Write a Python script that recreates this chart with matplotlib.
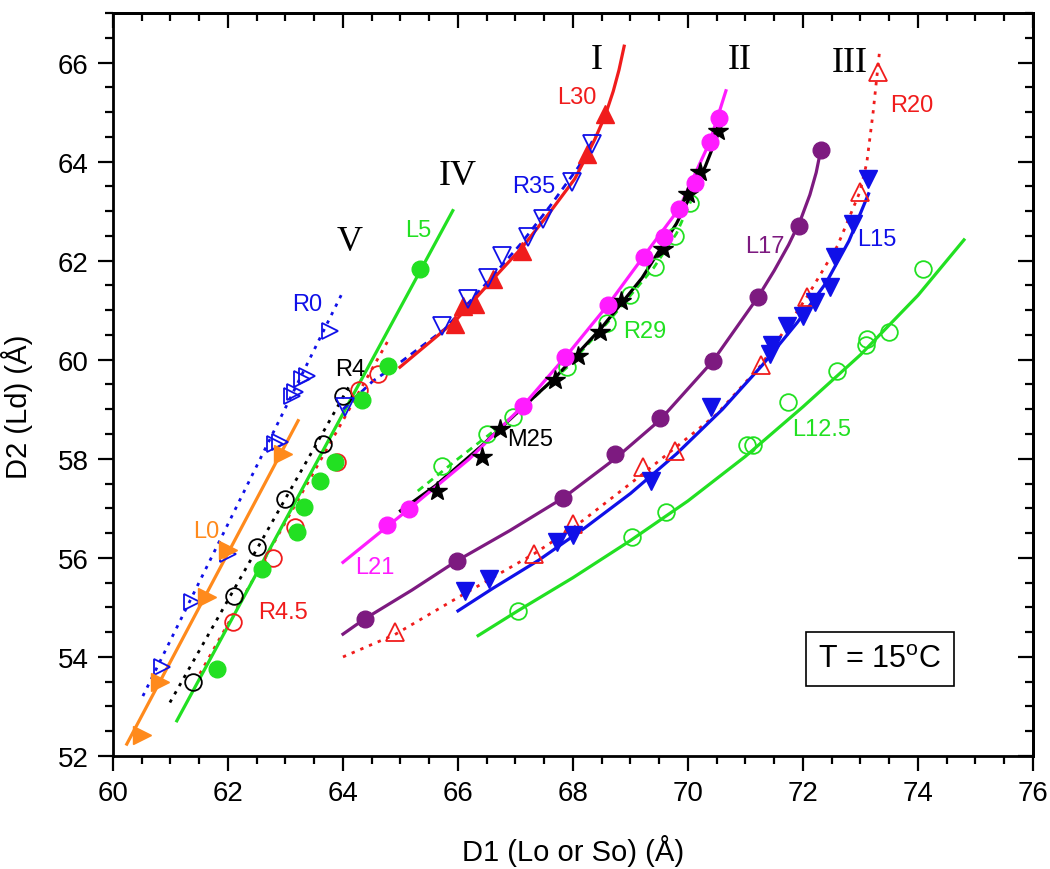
import numpy as np
import matplotlib
matplotlib.use("Agg")
import matplotlib.pyplot as plt
from matplotlib.ticker import MultipleLocator

plt.rcParams['font.family'] = ['Liberation Sans', 'DejaVu Sans']
plt.rcParams['mathtext.fontset'] = 'custom'
plt.rcParams['mathtext.rm'] = 'Liberation Sans'

# ---- data (D1, D2 in Angstrom) ----
# L0 : orange, filled right triangles
L0_x = [60.50, 60.82, 61.63, 62.00, 62.96]
L0_y = [52.42, 53.49, 55.21, 56.16, 58.10]
L0_fit_x = [60.24, 63.22]
L0_fit_y = [52.24, 58.77]

# R0 : blue open right triangles, dotted
R0_x = [60.85, 61.37, 62.00, 62.82, 62.90, 63.11, 63.17, 63.29, 63.37, 63.77]
R0_y = [53.79, 55.10, 56.08, 58.30, 58.34, 59.27, 59.35, 59.61, 59.67, 60.59]
R0_fit_x = [60.52, 63.98]
R0_fit_y = [53.21, 61.33]

# R4 : black open circles, dotted
R4_x = [61.39, 62.10, 62.50, 62.99, 63.66, 64.00]
R4_y = [53.49, 55.23, 56.22, 57.19, 58.30, 59.27]
R4_fit_x = [60.99, 64.10]
R4_fit_y = [53.08, 59.45]

# R4.5 : red open circles, dotted
R45_x = [62.09, 62.78, 63.17, 63.90, 64.28, 64.61]
R45_y = [54.71, 56.00, 56.62, 57.94, 59.39, 59.71]
R45_fit_x = [61.51, 64.82]
R45_fit_y = [53.66, 60.46]

# L5 : green filled circles
L5_x = [61.81, 62.59, 63.20, 63.32, 63.60, 63.86, 64.33, 64.78, 65.34]
L5_y = [53.76, 55.78, 56.52, 57.03, 57.55, 57.94, 59.19, 59.87, 61.83]
L5_fit_x = [61.11, 65.91]
L5_fit_y = [52.71, 63.01]

# L30 : red filled up triangles (I)
L30_x = [65.95, 66.09, 66.30, 66.61, 67.11, 68.24, 68.56]
L30_y = [60.72, 61.09, 61.13, 61.63, 62.20, 64.15, 64.96]
L30_fit_x = [64.99, 65.95, 66.61, 67.11, 67.60, 68.03, 68.20, 68.38, 68.56, 68.70, 68.80, 68.89]
L30_fit_y = [59.85, 60.78, 61.63, 62.26, 62.98, 63.65, 64.03, 64.45, 64.93, 65.42, 65.85, 66.33]

# R35 : blue open down triangles, dashed
R35_x = [64.03, 65.72, 66.18, 66.53, 66.76, 67.22, 67.48, 67.98, 68.33]
R35_y = [59.05, 60.69, 61.23, 61.66, 62.10, 62.47, 62.84, 63.58, 64.36]
R35_fit_x = [64.00, 64.52, 65.00, 65.77, 66.50, 67.10, 67.60, 68.10, 68.40]
R35_fit_y = [59.00, 59.57, 59.95, 60.62, 61.55, 62.35, 63.10, 63.90, 64.55]

# L21 : magenta filled circles (II)
L21_x = [64.77, 65.15, 67.13, 67.86, 68.61, 69.23, 69.58, 69.84, 70.12, 70.38, 70.54]
L21_y = [56.66, 56.99, 59.07, 60.06, 61.11, 62.07, 62.48, 63.04, 63.57, 64.40, 64.88]
L21_fit_x = [64.00, 65.15, 66.20, 67.13, 67.90, 68.61, 69.30, 69.84, 70.38, 70.66]
L21_fit_y = [55.91, 56.99, 58.00, 59.07, 60.10, 61.11, 62.20, 63.04, 64.40, 65.43]

# M25 : black stars
M25_x = [65.63, 66.42, 66.73, 67.69, 68.09, 68.47, 68.83, 69.57, 70.00, 70.21, 70.52]
M25_y = [57.35, 58.04, 58.60, 59.59, 60.08, 60.56, 61.19, 62.24, 63.35, 63.79, 64.62]
M25_fit_x = [65.00, 65.60, 66.40, 67.00, 67.70, 68.50, 69.20, 69.80, 70.30, 70.64]
M25_fit_y = [56.95, 57.45, 58.25, 58.90, 59.65, 60.65, 61.65, 62.75, 63.90, 64.90]

# R29 : green open circles, dotted
R29_x = [65.72, 66.50, 66.96, 67.90, 68.59, 68.99, 69.43, 69.77, 70.03]
R29_y = [57.86, 58.50, 58.84, 59.85, 60.74, 61.31, 61.87, 62.50, 63.17]
R29_fit_x = [65.30, 66.00, 67.00, 67.90, 68.60, 69.40, 69.80, 70.05]
R29_fit_y = [57.35, 58.00, 58.90, 59.85, 60.75, 61.85, 62.55, 63.20]

# L17 : purple filled circles
L17_x = [64.38, 65.98, 67.83, 68.73, 69.51, 70.43, 71.22, 71.93, 72.31]
L17_y = [54.77, 55.94, 57.21, 58.10, 58.82, 59.97, 61.27, 62.70, 64.24]
L17_fit_x = [64.00, 64.38, 65.20, 65.98, 66.90, 67.83, 68.73, 69.51, 70.43, 71.22,
             71.50, 71.75, 71.95, 72.12, 72.23, 72.31]
L17_fit_y = [54.46, 54.77, 55.35, 55.94, 56.55, 57.21, 58.00, 58.78, 59.97, 61.27,
             61.80, 62.32, 62.80, 63.33, 63.78, 64.24]

# L15 : blue filled down triangles (III)
L15_x = [66.12, 66.54, 67.72, 68.00, 69.36, 70.40, 71.42, 71.46, 71.72, 72.00,
         72.21, 72.47, 72.56, 72.87, 73.13]
L15_y = [55.33, 55.57, 56.32, 56.46, 57.55, 59.05, 60.12, 60.30, 60.68, 60.88,
         61.17, 61.47, 62.07, 62.74, 63.65]
L15_fit_x = [66.00, 66.60, 67.40, 68.20, 69.00, 69.80, 70.60, 71.30, 71.90, 72.40, 72.80, 73.14]
L15_fit_y = [54.93, 55.38, 55.95, 56.60, 57.30, 58.10, 59.00, 59.90, 60.75, 61.55, 62.40, 63.35]

# R20 : red open up triangles, dotted
R20_x = [64.90, 67.32, 68.00, 69.22, 69.77, 71.27, 72.07, 72.99, 73.30]
R20_y = [54.50, 56.08, 56.68, 57.83, 58.16, 59.89, 61.27, 63.39, 65.81]
R20_fit_x = [64.00, 64.90, 66.00, 67.32, 68.00, 69.22, 70.50, 71.27, 72.07, 72.60, 72.99, 73.11, 73.22, 73.33]
R20_fit_y = [54.00, 54.45, 55.20, 56.08, 56.60, 57.70, 58.90, 59.89, 61.27, 62.30, 63.39, 63.98, 65.00, 66.21]

# L12.5 : green open circles
L125_x = [67.04, 69.03, 69.62, 71.03, 71.13, 71.74, 72.59, 73.10, 73.11, 73.50, 74.09]
L125_y = [54.93, 56.42, 56.93, 58.28, 58.28, 59.15, 59.77, 60.30, 60.42, 60.56, 61.83]
L125_fit_x = [66.35, 67.04, 68.00, 69.00, 70.00, 71.00, 72.00, 73.00, 74.00, 74.80]
L125_fit_y = [54.43, 54.93, 55.60, 56.35, 57.15, 58.05, 59.05, 60.10, 61.30, 62.42]

RED = '#f01c1c'
BLUE = '#1010e8'
GREEN = '#22e022'
ORANGE = '#ff8a1c'
MAGENTA = '#ff1cff'
PURPLE = '#7d1a80'

fig = plt.figure(figsize=(10.5, 8.7), dpi=100)
ax = fig.add_axes([0.1076, 0.1299, 0.8762, 0.854])

dot = (0, (1.2, 2.2))
dash = (0, (2.5, 2.0))
LW = 2.3
DLW = 2.0

# fit lines
ax.plot(L0_fit_x, L0_fit_y, color=ORANGE, lw=LW, zorder=2)
ax.plot(R0_fit_x, R0_fit_y, color=BLUE, lw=DLW, ls=dot, zorder=2)
ax.plot(R4_fit_x, R4_fit_y, color='black', lw=DLW, ls=dot, zorder=2)
ax.plot(R45_fit_x, R45_fit_y, color=RED, lw=DLW, ls=dot, zorder=2)
ax.plot(L5_fit_x, L5_fit_y, color=GREEN, lw=LW, zorder=2)
ax.plot(R35_fit_x, R35_fit_y, color=BLUE, lw=DLW, ls=dash, zorder=2)
ax.plot(L30_fit_x, L30_fit_y, color=RED, lw=LW, zorder=2)
ax.plot(R29_fit_x, R29_fit_y, color=GREEN, lw=DLW, ls=dash, zorder=2)
ax.plot(M25_fit_x, M25_fit_y, color='black', lw=LW, zorder=2)
ax.plot(L21_fit_x, L21_fit_y, color=MAGENTA, lw=LW, zorder=2)
ax.plot(L17_fit_x, L17_fit_y, color=PURPLE, lw=LW, zorder=2)
ax.plot(R20_fit_x, R20_fit_y, color=RED, lw=DLW, ls=dot, zorder=2)
ax.plot(L15_fit_x, L15_fit_y, color=BLUE, lw=LW, zorder=2)
ax.plot(L125_fit_x, L125_fit_y, color=GREEN, lw=LW, zorder=2)

# markers
def pts(x, y, m, c, filled=True, ms=12, z=3):
    if filled:
        ax.plot(x, y, ls='none', marker=m, ms=ms, mfc=c, mec=c, zorder=z)
    else:
        ax.plot(x, y, ls='none', marker=m, ms=ms, mfc='none', mec=c, mew=1.3, zorder=z)

pts(R0_x, R0_y, '>', BLUE, False, 12)
pts(L0_x, L0_y, '>', ORANGE, True, 13)
pts(R4_x, R4_y, 'o', 'black', False, 12)
pts(R45_x, R45_y, 'o', RED, False, 12)
pts(L5_x, L5_y, 'o', GREEN, True, 12)
pts(L30_x, L30_y, '^', RED, True, 13)
pts(R35_x, R35_y, 'v', BLUE, False, 13, 4)
pts(R29_x, R29_y, 'o', GREEN, False, 12)
pts(M25_x, M25_y, '*', 'black', True, 15)
pts(L21_x, L21_y, 'o', MAGENTA, True, 12)
pts(L17_x, L17_y, 'o', PURPLE, True, 12)
pts(R20_x, R20_y, '^', RED, False, 13)
pts(L15_x, L15_y, 'v', BLUE, True, 13)
pts(L125_x, L125_y, 'o', GREEN, False, 12)

# labels of series
fs = 17
lab = [("L30", 68.06, 65.30, RED), ("R35", 67.31, 63.51, BLUE), ("L5", 65.31, 62.61, GREEN),
       ("R0", 63.37, 61.13, BLUE), ("R4", 64.12, 59.81, 'black'), ("L0", 61.63, 56.55, ORANGE),
       ("R4.5", 62.96, 54.90, RED), ("L21", 64.56, 55.81, MAGENTA), ("M25", 67.25, 58.40, 'black'),
       ("R29", 69.25, 60.58, GREEN), ("L17", 71.34, 62.30, PURPLE), ("L15", 73.28, 62.44, BLUE),
       ("R20", 73.89, 65.14, RED), ("L12.5", 72.32, 58.60, GREEN)]
for t, x, y, c in lab:
    ax.text(x, y, t, color=c, fontsize=fs, ha='center', va='center')

roman = [("I", 68.41, 66.07), ("II", 70.90, 66.07), ("III", 72.82, 66.00),
         ("IV", 66.00, 63.72), ("V", 64.12, 62.38)]
for t, x, y in roman:
    ax.text(x, y, t, color='black', fontsize=26, ha='center', va='center',
            family=['Liberation Serif', 'DejaVu Serif'])

ax.text(73.34, 53.96, r"T = 15$^{\mathrm{o}}$C", fontsize=22, ha='center', va='center',
        bbox=dict(boxstyle='square,pad=0.4', fc='white', ec='black', lw=1.2))

# axes
ax.set_xlim(60, 76)
ax.set_ylim(52, 67)
ax.xaxis.set_major_locator(MultipleLocator(2))
ax.xaxis.set_minor_locator(MultipleLocator(0.5))
ax.yaxis.set_major_locator(MultipleLocator(2))
ax.yaxis.set_minor_locator(MultipleLocator(0.5))
for s in ax.spines.values():
    s.set_linewidth(2.0)
ax.tick_params(which='major', direction='out', length=10.5, width=1.6, labelsize=20, pad=7)
ax.tick_params(which='minor', direction='out', length=5.8, width=1.6)

# mirrored inward ticks on top and right
top = ax.secondary_xaxis('top')
top.xaxis.set_major_locator(MultipleLocator(2))
top.xaxis.set_minor_locator(MultipleLocator(0.5))
top.tick_params(which='major', direction='in', length=10.5, width=1.6, labeltop=False)
top.tick_params(which='minor', direction='in', length=5.8, width=1.6)
right = ax.secondary_yaxis('right')
right.yaxis.set_major_locator(MultipleLocator(2))
right.yaxis.set_minor_locator(MultipleLocator(0.5))
right.tick_params(which='major', direction='in', length=10.5, width=1.6, labelright=False)
right.tick_params(which='minor', direction='in', length=5.8, width=1.6)
top.spines['top'].set_linewidth(2.0)
right.spines['right'].set_linewidth(2.0)

ax.set_xlabel("D1 (Lo or So) (Å)", fontsize=21)
ax.set_ylabel("D2 (Ld) (Å)", fontsize=21)
ax.xaxis.set_label_coords(0.5, -0.105)
ax.yaxis.set_label_coords(-0.087, 0.471)

fig.savefig("out.png", dpi=100)
